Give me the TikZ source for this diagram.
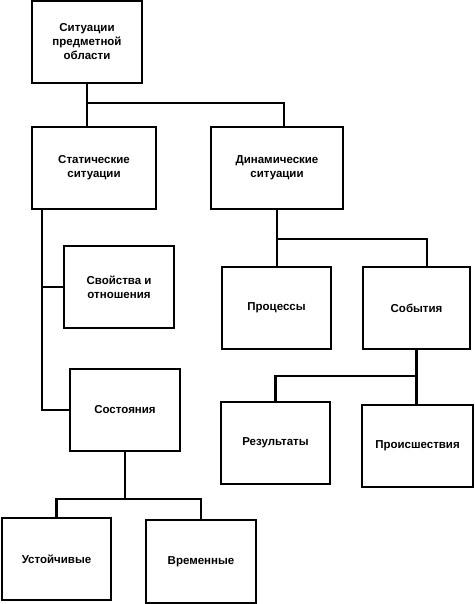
\documentclass[tikz,border=0pt]{standalone}
\usepackage{fontspec}
\setmainfont{Liberation Sans}
\usetikzlibrary{positioning}

\begin{document}
\begin{tikzpicture}[x=1pt,y=-1pt,line width=2.4pt,font=\fontsize{11.5}{14}\selectfont\bfseries]
      \tikzstyle{box}=[draw,rectangle,minimum width=110pt,minimum height=82pt,align=center,inner sep=0pt]
      \useasboundingbox (0,0) rectangle (474,604);

      \node[box] (root) at (87,42) {Ситуации\\предметной\\области};
      \node[box,minimum width=124pt] (stat) at (94,168) {Статические\\ситуации};
      \node[box,minimum width=132pt] (dyn) at (277,168) {Динамические\\ситуации};
      \node[box] (prop) at (119,287) {Свойства и\\отношения};
      \node[box] (cond) at (125,410) {Состояния};
      \node[box,minimum width=109pt] (proc) at (276.5,308) {Процессы};
      \node[box,minimum width=107pt] (event) at (416.5,308) {События};
      \node[box,minimum width=109pt] (res) at (275.5,443) {Результаты};
      \node[box,minimum width=111pt] (inc) at (417.5,446) {Происшествия};
      \node[box,minimum width=109pt] (stab) at (56.5,559) {Устойчивые};
      \node[box,minimum height=83pt] (temp) at (201,561.5) {Временные};

      \draw (root.south) -- (root.south |- stat.north);
      \draw (root.south) ++(0,19) -| ([xshift=7pt]dyn.north);
      \draw ([xshift=-52pt]stat.south) |- (cond.west);
      \draw ([xshift=-52pt]stat.south |- prop.west) -- (prop.west);
      \draw (dyn.south) -- (dyn.south |- proc.north);
      \draw (dyn.south) ++(0,29) -| ([xshift=10.5pt]event.north);
      \draw (event.south) -- (event.south |- inc.north);
      \draw (event.south) ++(0,26) -| (res.north);
      \draw (cond.south) -- ++(0,47) -| (stab.north);
      \draw (cond.south) ++(0,47) -| (temp.north);
\end{tikzpicture}
\end{document}
